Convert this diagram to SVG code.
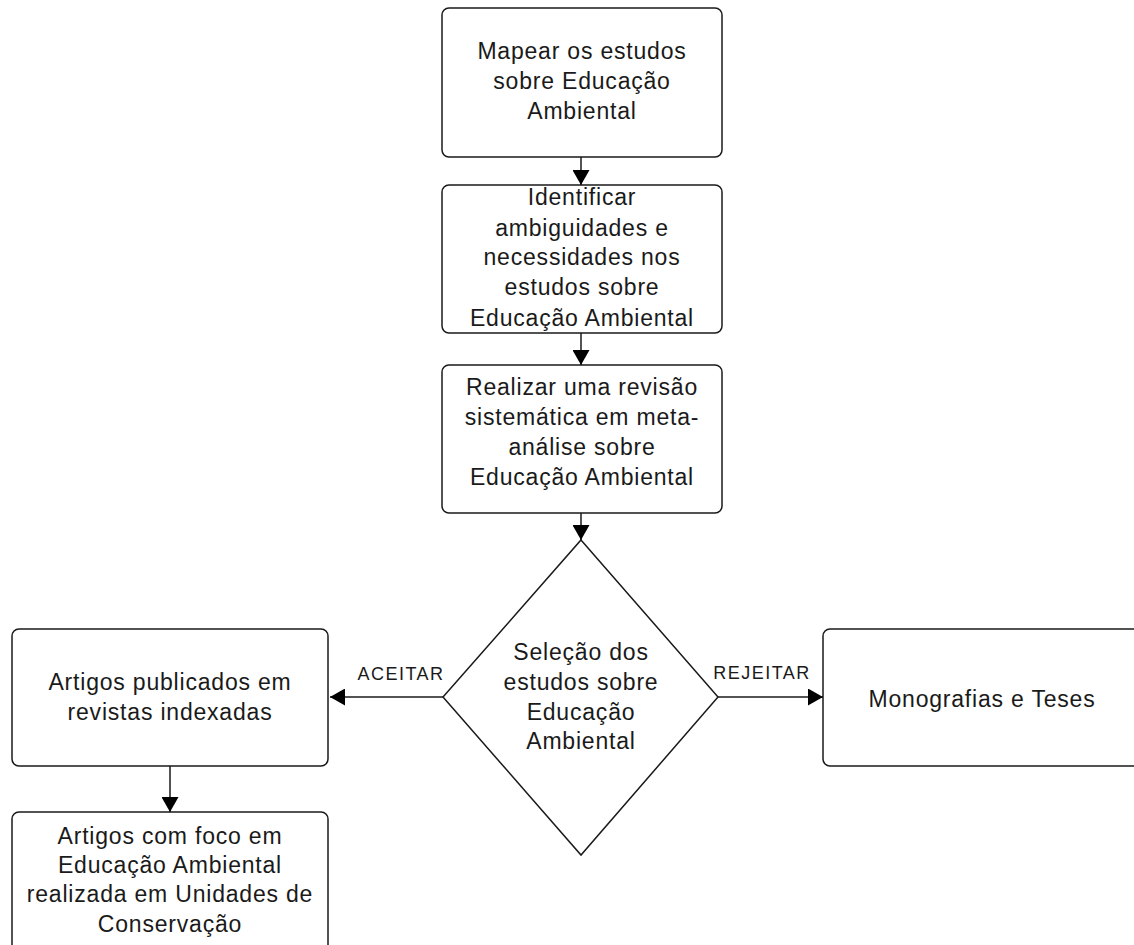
<svg xmlns="http://www.w3.org/2000/svg" width="1134" height="945" viewBox="0 0 1134 945">
<style>
.n{fill:#fff;stroke:#1a1a1a;stroke-width:1.5}
.t{font-family:"Liberation Sans",Arial,sans-serif;font-size:23px;fill:#1a1a1a;text-anchor:middle;letter-spacing:0.8px}
.l{font-family:"Liberation Sans",Arial,sans-serif;font-size:18px;fill:#1a1a1a;text-anchor:middle;letter-spacing:1.5px}
.c{fill:none;stroke:#1a1a1a;stroke-width:1.5}
</style>
<defs>
<marker id="ah" viewBox="0 0 15 17" refX="15" refY="8.5" markerWidth="15" markerHeight="17" markerUnits="userSpaceOnUse" orient="auto">
<path d="M0,0 L15,8.5 L0,17 Z" fill="#000"/>
</marker>
</defs>
<rect width="1134" height="945" fill="#fff"/>
<g id="n1"><rect class="n" x="442" y="8" width="280" height="149" rx="7"/>
<text class="t" x="582" y="59">Mapear os estudos</text>
<text class="t" x="582" y="89">sobre Educação</text>
<text class="t" x="582" y="119">Ambiental</text></g>
<g id="n2"><rect class="n" x="442" y="185" width="280" height="148" rx="7"/>
<text class="t" x="582" y="205">Identificar</text>
<text class="t" x="582" y="236">ambiguidades e</text>
<text class="t" x="582" y="265">necessidades nos</text>
<text class="t" x="582" y="295">estudos sobre</text>
<text class="t" x="582" y="326">Educação Ambiental</text></g>
<g id="n3"><rect class="n" x="442" y="365" width="280" height="148" rx="7"/>
<text class="t" x="582" y="395">Realizar uma revisão</text>
<text class="t" x="582" y="425">sistemática em meta-</text>
<text class="t" x="582" y="455">análise sobre</text>
<text class="t" x="582" y="485">Educação Ambiental</text></g>
<g id="n4"><path class="n" d="M581,540 L718,697 L581,855 L443,697 Z"/>
<text class="t" x="581" y="660">Seleção dos</text>
<text class="t" x="581" y="690">estudos sobre</text>
<text class="t" x="581" y="720">Educação</text>
<text class="t" x="581" y="749">Ambiental</text></g>
<g id="n5"><rect class="n" x="12" y="629" width="316" height="137" rx="7"/>
<text class="t" x="170" y="690">Artigos publicados em</text>
<text class="t" x="170" y="720">revistas indexadas</text></g>
<g id="n6"><rect class="n" x="12" y="812" width="316" height="145" rx="7"/>
<text class="t" x="170" y="844">Artigos com foco em</text>
<text class="t" x="170" y="873">Educação Ambiental</text>
<text class="t" x="170" y="902">realizada em Unidades de</text>
<text class="t" x="170" y="932">Conservação</text></g>
<g id="n7"><rect class="n" x="823" y="629" width="320" height="137" rx="7"/>
<text class="t" x="982" y="707">Monografias e Teses</text></g>
<g id="edges">
<line class="c" x1="581" y1="157" x2="581" y2="185" marker-end="url(#ah)"/>
<line class="c" x1="581" y1="333" x2="581" y2="365" marker-end="url(#ah)"/>
<line class="c" x1="581" y1="513" x2="581" y2="540" marker-end="url(#ah)"/>
<line class="c" x1="443" y1="697" x2="330" y2="697" marker-end="url(#ah)"/>
<line class="c" x1="718" y1="697" x2="823" y2="697" marker-end="url(#ah)"/>
<line class="c" x1="170" y1="766" x2="170" y2="812" marker-end="url(#ah)"/>
<text class="l" x="401" y="680">ACEITAR</text>
<text class="l" x="762" y="679">REJEITAR</text>
</g>
</svg>
